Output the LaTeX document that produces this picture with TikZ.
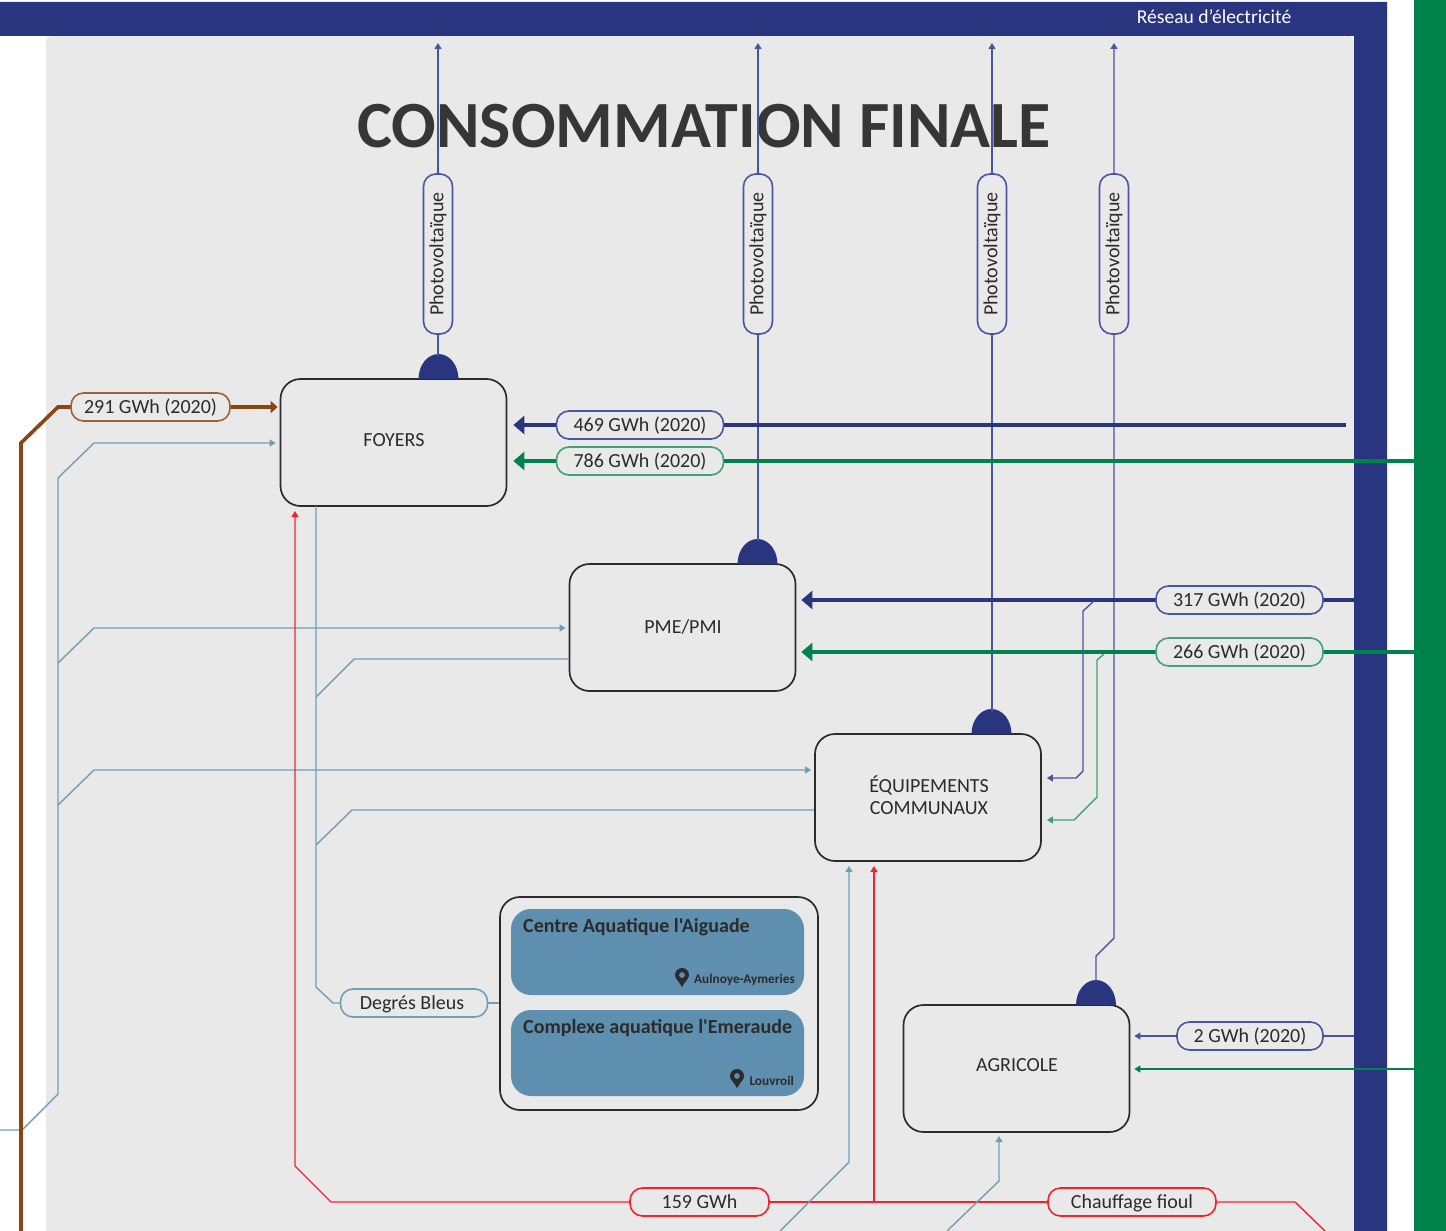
\documentclass[tikz,border=0pt]{standalone}
\usepackage{fontspec}
\setmainfont{Carlito}
\newfontfamily\hallfont{Carlito}
\usetikzlibrary{arrows.meta,calc}
\definecolor{navy}{HTML}{29357F}
\definecolor{lnavy}{HTML}{4A55A0}
\definecolor{grn}{HTML}{00824D}
\definecolor{lgrn}{HTML}{3FA177}
\definecolor{brn}{HTML}{8B4513}
\definecolor{sky}{HTML}{6F9FB8}
\definecolor{teal}{HTML}{5F8FAE}
\definecolor{bg}{HTML}{E9E9E9}
\definecolor{ink}{HTML}{2B2B2B}
\definecolor{redl}{HTML}{F5222D}
\tikzset{
  x=1pt,y=-1pt,
  box/.style={draw=ink,line width=1.7pt,rounded corners=20pt,minimum width=226pt,minimum height=127pt,inner sep=0pt},
  boxtext/.style={align=center,font=\fontsize{20}{22}\selectfont,text=ink,inner sep=0pt},
  pill/.style={draw=#1,fill=bg,line width=1.6pt,rounded corners=12.5pt,minimum height=28pt,inner sep=0pt,text=ink,text height=16.5pt,text depth=3.7pt,font=\fontsize{20}{22}\selectfont},
  pv/.style={draw=lnavy,fill=bg,line width=1.6pt,rounded corners=12.5pt,rotate=90,minimum width=160pt,minimum height=29pt,inner sep=0pt,text=ink,font=\fontsize{20}{22}\selectfont},
  thin line/.style={line width=1.4pt},
  thick line/.style={line width=3.6pt},
  tipsmall/.style={-{Triangle[length=6pt,width=7pt]}},
  tipbig/.style={-{Triangle[length=11pt,width=18pt]}},
  dome/.style={fill=navy},
  hall/.style={fill=teal,rounded corners=20pt},
  hallname/.style={anchor=west,font=\hallfont\bfseries\fontsize{20}{24}\selectfont,text=ink,inner sep=0pt},
  halltown/.style={anchor=east,font=\bfseries\fontsize{13.3}{14}\selectfont,text=ink,inner sep=0pt},
}
\begin{document}
\begin{tikzpicture}
\useasboundingbox (0,0) rectangle (1446,1231);
\fill[white] (0,0) rectangle (1446,1231);
% panels
\fill[bg,rounded corners=5pt] (46,36) rectangle (1354,1240);
\fill[navy] (0,2) -- (1387,2) -- (1387,1231) -- (1354,1231) -- (1354,36) -- (0,36) -- cycle;
\fill[grn] (1414,0) rectangle (1446,1231);
\node[text=white,font=\fontsize{19.6}{22}\selectfont,inner sep=0pt] (reseau) at (1214,17) {Réseau d’électricité};
\node[font=\bfseries\fontsize{66}{70}\selectfont,text=ink!95,inner sep=0pt] (title) at (704,126) {CONSOMMATION FINALE};
% boxes
\node[box] (foyers) at (393.5,442.5) {};
\node[boxtext] (foyerst) at (394,440) {FOYERS};
\node[box] (pme) at (682.5,627.5) {};
\node[boxtext] (pmet) at (683,627) {PME/PMI};
\node[box] (equip) at (928,797.5) {};
\node[boxtext] (equipt) at (929,795) {ÉQUIPEMENTS\\COMMUNAUX};
\node[box] (agri) at (1016.5,1068.5) {};
\node[boxtext] (agrit) at (1017,1065) {AGRICOLE};
% domes
\fill[dome] (418.5,379) arc[start angle=180,end angle=0,x radius=20,y radius=-25] -- cycle;
\fill[dome] (737.5,564) arc[start angle=180,end angle=0,x radius=20,y radius=-25] -- cycle;
\fill[dome] (971.5,734) arc[start angle=180,end angle=0,x radius=20,y radius=-25] -- cycle;
\fill[dome] (1076,1005) arc[start angle=180,end angle=0,x radius=20,y radius=-25] -- cycle;
\coordinate (d1) at (438,356);
\coordinate (d2) at (758,541);
\coordinate (d3) at (992,711);
\coordinate (d4) at (1096,982);
\coordinate (t1) at (438,43);
\coordinate (t2) at (758,43);
\coordinate (t3) at (992,43);
\coordinate (t4) at (1114,43);
\coordinate (k1) at (1114,938);
\coordinate (k2) at (1096,956);
% photovoltaic lines
\draw[lnavy,thin line,tipsmall] (d1) -- (t1);
\draw[lnavy,thin line,tipsmall] (d2) -- (t2);
\draw[lnavy,thin line,tipsmall] (d3) -- (t3);
\draw[lnavy,thin line,tipsmall] (d4) -- (k2) -- (k1) -- (t4);
\node[pv] (pv1) at (438,254) {Photovoltaïque};
\node[pv] (pv2) at (758,254) {Photovoltaïque};
\node[pv] (pv3) at (992,254) {Photovoltaïque};
\node[pv] (pv4) at (1114,254) {Photovoltaïque};
% sky network
\coordinate (s0) at (0,1130);
\coordinate (s1) at (22,1130);
\coordinate (s2) at (58,1094);
\coordinate (s3) at (58,805);
\coordinate (s4) at (58,663);
\coordinate (s5) at (58,478);
\coordinate (s6) at (94,443);
\coordinate (s7) at (94,770);
\coordinate (s8) at (94,628);
\draw[sky,thin line,tipsmall] (s0) -- (s1) -- (s2) -- (s5) -- (s6) -- ([xshift=-4pt]foyers.west |- s6);
\draw[sky,thin line,tipsmall] (s4) -- (s8) -- ([xshift=-3pt]pme.west |- s8);
\draw[sky,thin line,tipsmall] (s3) -- (s7) -- ([xshift=-3pt]equip.west |- s7);
\node[pill=sky,minimum width=147pt] (degres) at (414,1003) {\hspace*{-4pt}Degrés Bleus};
\coordinate (b1) at (316,506);
\coordinate (b2) at (316,987);
\coordinate (b3) at (333,1003);
\coordinate (b4) at (316,697);
\coordinate (b5) at (354,659);
\coordinate (b6) at (316,845);
\coordinate (b7) at (352,810);
\draw[sky,thin line] (b1) -- (b2) -- (b3) -- (degres.west);
\draw[sky,thin line] (b4) -- (b5) -- (pme.west |- b5);
\draw[sky,thin line] (b6) -- (b7) -- (equip.west |- b7);
% aquatic group
\node[draw=ink,line width=1.7pt,rounded corners=20pt,minimum width=318pt,minimum height=213pt,inner sep=0pt] (aqua) at (659,1003.5) {};
\draw[sky,thin line] (degres.east) -- (aqua.west |- degres.east);
\fill[hall] (511,909) rectangle (804,995);
\fill[hall] (511,1010) rectangle (804,1096);
\node[hallname] (aig) at (523,927) {Centre Aquatique l'Aiguade};
\node[hallname] (eme) at (523,1028) {Complexe aquatique l'Emeraude};
\node[halltown] (aul) at (795,980) {Aulnoye-Aymeries};
\node[halltown] (lou) at (794,1081) {Louvroil};
\fill[ink,even odd rule] (682,987) .. controls (679,981) and (675,979) .. (675,975) arc[start angle=180,end angle=0,x radius=7,y radius=-7] .. controls (689,979) and (685,981) .. (682,987) -- cycle (682,975) circle[radius=3];
\fill[ink,even odd rule] (737,1088) .. controls (734,1082) and (730,1080) .. (730,1076) arc[start angle=180,end angle=0,x radius=7,y radius=-7] .. controls (744,1080) and (740,1082) .. (737,1088) -- cycle (737,1076) circle[radius=3];
% brown
\node[pill=brn!85,minimum width=159pt] (p291) at (150.5,407) {291 GWh (2020)};
\coordinate (br0) at (21,1231);
\coordinate (br1) at (21,443);
\coordinate (br2) at (58,407);
\draw[brn,thick line] (br0) -- (br1) -- (br2) -- (p291.west);
\draw[brn,thick line,-{Triangle[length=7pt,width=12pt]}] (p291.east) -- ([xshift=-2pt]foyers.west |- p291.east);
% electricity
\coordinate (n469) at (1346,425);
\coordinate (g786) at (1414,461);
\node[pill=lnavy,minimum width=167pt] (p469) at (640,425) {469 GWh (2020)};
\node[pill=lgrn,minimum width=167pt] (p786) at (640,461) {786 GWh (2020)};
\draw[navy,thick line] (n469) -- (p469.east);
\draw[navy,thick line,tipbig] (p469.west) -- ([xshift=6pt]foyers.east |- p469.west);
\draw[grn,thick line] (g786) -- (p786.east);
\draw[grn,thick line,tipbig] (p786.west) -- ([xshift=6pt]foyers.east |- p786.west);
\node[pill=lnavy,minimum width=167pt] (p317) at (1239.5,600) {317 GWh (2020)};
\node[pill=lgrn,minimum width=167pt] (p266) at (1239.5,652) {266 GWh (2020)};
\coordinate (n317) at (1354,600);
\coordinate (g266) at (1414,652);
\draw[navy,thick line] (n317) -- (p317.east);
\draw[navy,thick line,tipbig] (p317.west) -- ([xshift=5pt]pme.east |- p317.west);
\draw[grn,thick line] (g266) -- (p266.east);
\draw[grn,thick line,tipbig] (p266.west) -- ([xshift=5pt]pme.east |- p266.west);
\coordinate (c1) at (1094,601);
\coordinate (c2) at (1083,611);
\coordinate (c3) at (1083,771);
\coordinate (c4) at (1076,778);
\coordinate (c5) at (1104,654);
\coordinate (c6) at (1097,660);
\coordinate (c7) at (1097,797);
\coordinate (c8) at (1074,820);
\draw[lnavy,thin line,tipsmall] (c1) -- (c2) -- (c3) -- (c4) -- ([xshift=5pt]equip.east |- c4);
\draw[lgrn,thin line,tipsmall] (c5) -- (c6) -- (c7) -- (c8) -- ([xshift=5pt]equip.east |- c8);
\node[pill=lnavy,minimum width=146pt] (p2) at (1250,1036) {2 GWh (2020)};
\coordinate (n2) at (1354,1036);
\coordinate (g2) at (1414,1069);
\draw[lnavy,thin line] (n2) -- (p2.east);
\draw[lnavy,thin line,tipsmall] (p2.west) -- ([xshift=4pt]agri.east |- p2.west);
\draw[grn,thin line,tipsmall] (g2) -- ([xshift=4pt]agri.east |- g2);
% bottom sky
\coordinate (e0) at (780,1231);
\coordinate (e1) at (849,1162);
\coordinate (e2) at (849,866);
\coordinate (e3) at (947,1231);
\coordinate (e4) at (999,1181);
\coordinate (e5) at (999,1136);
% red
\node[pill=redl,minimum width=139pt] (p159) at (699.5,1202) {159 GWh};
\node[pill=redl,minimum width=168pt] (pfioul) at (1132,1202) {Chauffage fioul};
\coordinate (r1) at (331,1202);
\coordinate (r2) at (295,1166);
\coordinate (r3) at (295,511);
\coordinate (r4) at (874,1202);
\coordinate (r5) at (874,866);
\coordinate (r6) at (1295,1202);
\coordinate (r7) at (1325,1231);
\draw[redl,thin line] (pfioul.west) -- (p159.east);
\draw[redl,thin line,tipsmall] (p159.west) -- (r1) -- (r2) -- (r3);
\draw[redl,thin line,tipsmall] (r4) -- (r5);
\draw[redl,thin line] (pfioul.east) -- (r6) -- (r7);
\draw[sky,thin line,tipsmall] (e0) -- (e1) -- (e2);
\draw[sky,thin line,tipsmall] (e3) -- (e4) -- (e5);
\end{tikzpicture}
\end{document}
